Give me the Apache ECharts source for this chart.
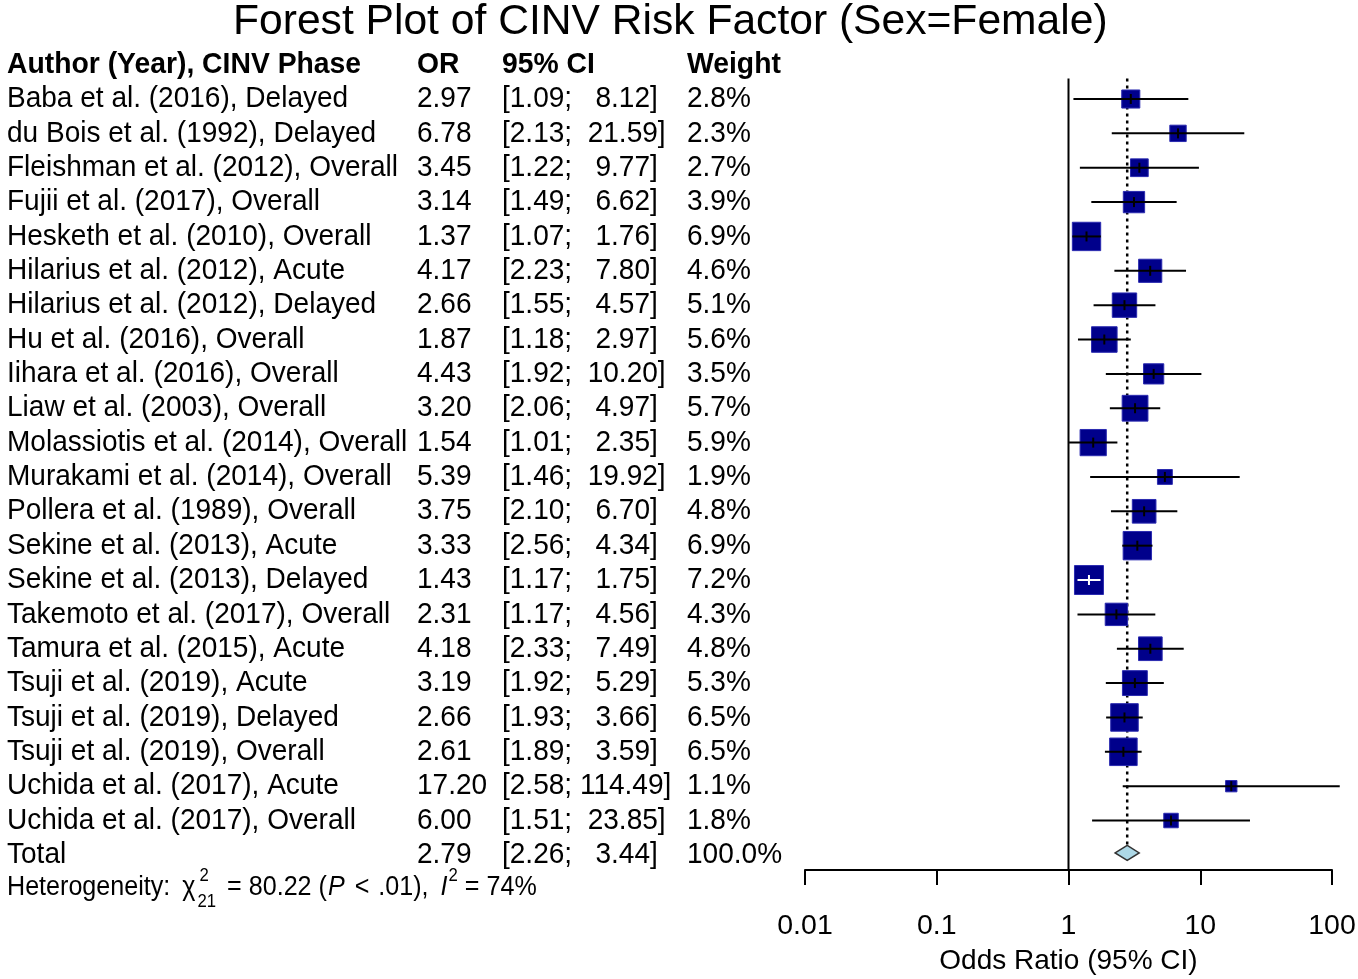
<!DOCTYPE html>
<html><head><meta charset="utf-8">
<script src="https://cdn.jsdelivr.net/npm/echarts@6/dist/echarts.min.js"></script>
<style>html,body{margin:0;padding:0;background:#fff;overflow:hidden}#c{position:absolute;left:0;top:0;width:1358px;height:979px}</style>
</head><body><div id="c"></div>
<script>
// ---- data ----
const studies = [
  'Baba et al. (2016), Delayed','du Bois et al. (1992), Delayed','Fleishman et al. (2012), Overall',
  'Fujii et al. (2017), Overall','Hesketh et al. (2010), Overall','Hilarius et al. (2012), Acute',
  'Hilarius et al. (2012), Delayed','Hu et al. (2016), Overall','Iihara et al. (2016), Overall',
  'Liaw et al. (2003), Overall','Molassiotis et al. (2014), Overall','Murakami et al. (2014), Overall',
  'Pollera et al. (1989), Overall','Sekine et al. (2013), Acute','Sekine et al. (2013), Delayed',
  'Takemoto et al. (2017), Overall','Tamura et al. (2015), Acute','Tsuji et al. (2019), Acute',
  'Tsuji et al. (2019), Delayed','Tsuji et al. (2019), Overall','Uchida et al. (2017), Acute',
  'Uchida et al. (2017), Overall'
];
const orValues = [2.97,6.78,3.45,3.14,1.37,4.17,2.66,1.87,4.43,3.20,1.54,5.39,3.75,3.33,1.43,2.31,4.18,3.19,2.66,2.61,17.20,6.00];
const ciLower  = [1.09,2.13,1.22,1.49,1.07,2.23,1.55,1.18,1.92,2.06,1.01,1.46,2.10,2.56,1.17,1.17,2.33,1.92,1.93,1.89,2.58,1.51];
const ciUpper  = [8.12,21.59,9.77,6.62,1.76,7.80,4.57,2.97,10.20,4.97,2.35,19.92,6.70,4.34,1.75,4.56,7.49,5.29,3.66,3.59,114.49,23.85];
const weights  = [2.8,2.3,2.7,3.9,6.9,4.6,5.1,5.6,3.5,5.7,5.9,1.9,4.8,6.9,7.2,4.3,4.8,5.3,6.5,6.5,1.1,1.8];
const totalOR = 2.79, totalLower = 2.26, totalUpper = 3.44, totalWeight = 100.0;
const headers = ['Author (Year), CINV Phase','OR','95% CI','Weight'];
const xTickLabels = ['0.01','0.1','1','10','100'];
const hetChi = 80.22, hetDf = 21, hetP = '.01', hetI2 = 74;

// ---- layout / style ----
const FONT = '"Liberation Sans", Arial, sans-serif';
const FS = 29.5, SX = 0.95;
const colX = [7, 417, 502, 687];
const ROW_TOTAL = studies.length, ROW_HEAD = -1, ROW_HET = studies.length + 1;
const fmt2 = v => v.toFixed(2);
const ciText = (lo, hi) => '[' + fmt2(lo) + '; ' + fmt2(hi).padStart(6, ' ') + ']';

function fontStr(size, style, weight) {
  return (style || 'normal') + ' ' + (weight || 'normal') + ' ' + size + 'px ' + FONT;
}
function txt(x, y, s, opt) {
  opt = opt || {};
  return { type: 'text', z2: 30, x: x, y: y, scaleX: opt.sx || SX, scaleY: 1, style: {
    text: s, x: 0, y: 0, fill: '#000',
    font: fontStr(opt.size || FS, opt.style, opt.weight),
    textAlign: opt.align || 'left', textVerticalAlign: opt.va || 'middle'
  }};
}
const measureCtx = document.createElement('canvas').getContext('2d');
function tw(s, font) { measureCtx.font = font; return measureCtx.measureText(s).width; }

const chart = echarts.init(document.getElementById('c'), null, { renderer: 'canvas' });

chart.setOption({
  backgroundColor: '#fff',
  animation: false,
  title: {
    text: 'Forest Plot of CINV Risk Factor (Sex=Female)',
    left: 233, top: 1, padding: 0,
    textStyle: { fontFamily: FONT, fontSize: 42.6, fontWeight: 'normal', color: '#000' }
  },
  grid: { left: 805, right: 26, top: 78.4, bottom: 109, containLabel: false, outerBoundsMode: 'none' },
  xAxis: {
    type: 'log', logBase: 10, min: 0.01, max: 100, position: 'bottom',
    axisLine: { show: true, onZero: false, lineStyle: { color: '#000', width: 2 } },
    axisTick: { show: true, length: 15, lineStyle: { color: '#000', width: 2 } },
    axisLabel: { fontFamily: FONT, fontSize: 28.5, color: '#000', margin: 42,
      formatter: v => { const k = Math.round(Math.log10(v)) + 2; return xTickLabels[k] !== undefined ? xTickLabels[k] : ''; } },
    splitLine: { show: false },
    name: 'Odds Ratio (95% CI)', nameLocation: 'middle', nameGap: 77,
    nameTextStyle: { fontFamily: FONT, fontSize: 28, color: '#000' }
  },
  yAxis: { type: 'value', min: -0.6, max: 22.44, inverse: true, show: false },
  series: [
    { // reference lines
      type: 'custom', clip: false, data: [[1, 0]], z: 1,
      renderItem: (params, api) => {
        const top1 = api.coord([1, -0.6]), bot1 = api.coord([1, 22.44]);
        const topT = api.coord([totalOR, -0.6]), botT = api.coord([totalOR, ROW_TOTAL]);
        return { type: 'group', children: [
          { type: 'line', shape: { x1: top1[0], y1: top1[1], x2: bot1[0], y2: bot1[1] },
            style: { stroke: '#000', lineWidth: 2 } },
          { type: 'line', shape: { x1: topT[0], y1: topT[1], x2: botT[0], y2: botT[1] - 9 },
            style: { stroke: '#000', lineWidth: 2.5, lineDash: [3, 4] } }
        ]};
      }
    },
    { // studies
      type: 'custom', clip: false, z: 3,
      data: orValues.map((v, i) => [v, i]),
      encode: { x: 0, y: 1 },
      renderItem: (params, api) => {
        const i = params.dataIndex;
        const c = api.coord([orValues[i], i]);
        const lo = api.coord([ciLower[i], i]), hi = api.coord([ciUpper[i], i]);
        const side = 10.8 * Math.sqrt(weights[i]);
        const within = lo[0] >= c[0] - side / 2 && hi[0] <= c[0] + side / 2;
        const lc = within ? '#fff' : '#000';
        return { type: 'group', children: [
          { type: 'rect', z2: 10, shape: { x: c[0] - side / 2, y: c[1] - side / 2, width: side, height: side },
            style: { fill: '#00008B', stroke: '#2b2bb0', lineWidth: 1 } },
          { type: 'line', z2: 20, shape: { x1: lo[0], y1: c[1], x2: hi[0], y2: c[1] },
            style: { stroke: lc, lineWidth: 2 } },
          { type: 'line', z2: 20, shape: { x1: c[0], y1: c[1] - 5, x2: c[0], y2: c[1] + 5 },
            style: { stroke: lc, lineWidth: 2 } },
          txt(colX[0], c[1], studies[i]),
          txt(colX[1], c[1], fmt2(orValues[i])),
          txt(colX[2], c[1], ciText(ciLower[i], ciUpper[i])),
          txt(colX[3], c[1], weights[i].toFixed(1) + '%')
        ]};
      }
    },
    { // total
      type: 'custom', clip: false, z: 3,
      data: [[totalOR, ROW_TOTAL]], encode: { x: 0, y: 1 },
      renderItem: (params, api) => {
        const c = api.coord([totalOR, ROW_TOTAL]);
        const lo = api.coord([totalLower, ROW_TOTAL]), hi = api.coord([totalUpper, ROW_TOTAL]);
        const h = 7.5, y = c[1] - 2;
        return { type: 'group', children: [
          { type: 'polygon', z2: 10, shape: { points: [[lo[0], y], [c[0], y - h], [hi[0], y], [c[0], y + h]] },
            style: { fill: '#ADD8E6', stroke: '#333', lineWidth: 1.5 } },
          txt(colX[0], c[1], 'Total'),
          txt(colX[1], c[1], fmt2(totalOR)),
          txt(colX[2], c[1], ciText(totalLower, totalUpper)),
          txt(colX[3], c[1], totalWeight.toFixed(1) + '%')
        ]};
      }
    },
    { // header and heterogeneity
      type: 'custom', clip: false, z: 3,
      data: [[1, ROW_HEAD]], encode: { x: 0, y: 1 },
      renderItem: (params, api) => {
        const hy = api.coord([1, ROW_HEAD])[1];
        const ey = api.coord([1, ROW_HET])[1] - 2;
        const children = headers.map((h, k) => txt(colX[k], hy, h, { weight: 'bold', sx: 0.96 }));
        const bs = 27, ss = 18, hsx = 0.93;
        let x = colX[0];
        // put a segment at current x, then advance by its width plus a gap
        const seg = (s, o) => {
          o = o || {};
          const size = o.size || bs;
          children.push(txt(x + (o.dx || 0), ey + (o.dy || 0), s, { size: size, style: o.style, sx: hsx }));
          if (!o.noAdvance) x += (o.dx || 0) + tw(s, fontStr(size, o.style)) * hsx + (o.gap || 0);
        };
        seg('Heterogeneity:', { gap: 12 });
        seg('\u03C7', { gap: 2 });
        seg('2', { size: ss, dy: -11, noAdvance: true, dx: 2 });
        seg(String(hetDf), { size: ss, dy: 15, gap: 11 });
        seg('= ' + hetChi.toFixed(2) + ' (', { gap: 1 });
        seg('P', { style: 'italic', gap: 10 });
        seg('<', { gap: 9 });
        seg(hetP + '),', { gap: 12 });
        seg('I', { style: 'italic', gap: 1 });
        seg('2', { size: ss, dy: -11, gap: 7 });
        seg('= ' + hetI2 + '%');
        return { type: 'group', children: children };
      }
    }
  ]
});
</script>
</body></html>
